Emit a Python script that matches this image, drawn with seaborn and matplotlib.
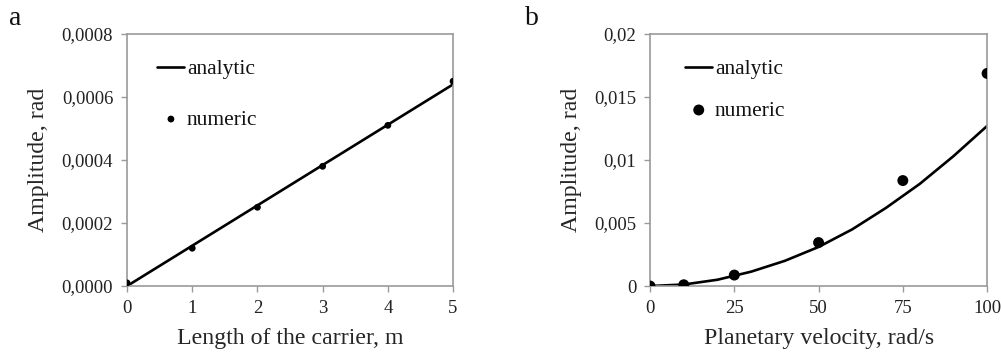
import numpy as np
import pandas as pd
import seaborn as sns
import matplotlib.pyplot as plt
from matplotlib.ticker import FuncFormatter

# Panel a: amplitude vs length of the carrier
len_analytic_x = [0, 1, 2, 3, 4, 5]
len_analytic_y = [0.0, 0.000128, 0.000256, 0.000384, 0.000512, 0.00064]
len_numeric_x = [0, 1, 2, 3, 4, 5]
len_numeric_y = [0.00001, 0.00012, 0.00025, 0.00038, 0.00051, 0.00065]

# Panel b: amplitude vs planetary velocity
vel_analytic_x = [0, 10, 20, 30, 40, 50, 60, 70, 80, 90, 100]
vel_analytic_y = [0.0, 0.00012, 0.0005, 0.00114, 0.002, 0.0031, 0.0045, 0.0062, 0.0081, 0.0103, 0.0127]
vel_numeric_x = [0, 10, 25, 50, 75, 100]
vel_numeric_y = [0.0, 0.0001, 0.00087, 0.00345, 0.00837, 0.01687]

sns.set_theme(style="white")
plt.rcParams['font.family'] = ['Liberation Serif', 'DejaVu Serif']
plt.rcParams['text.color'] = '#111111'

fig = plt.figure(figsize=(10.01, 3.54), dpi=100)
ax_a = fig.add_axes([0.1269, 0.192, 0.3257, 0.712])
ax_b = fig.add_axes([0.6494, 0.192, 0.3367, 0.712])

# --- panel a
sns.lineplot(x=len_analytic_x, y=len_analytic_y, ax=ax_a, color='black', lw=1.9, label='analytic')
sns.scatterplot(x=len_numeric_x, y=len_numeric_y, ax=ax_a, color='black', s=24, edgecolor='none',
                label='numeric', zorder=3)
ax_a.set_xlim(0, 5)
ax_a.set_ylim(0, 0.0008)
ax_a.set_xticks(range(0, 6))
ax_a.set_yticks(np.arange(0, 0.00081, 0.0002))
ax_a.yaxis.set_major_formatter(FuncFormatter(lambda v, p: f"{v:.4f}".replace('.', ',')))
ax_a.set_xlabel('Length of the carrier, m', fontsize=17.2, labelpad=8)
ax_a.set_ylabel('Amplitude, rad', fontsize=17.2, labelpad=9)

# --- panel b
sns.lineplot(x=vel_analytic_x, y=vel_analytic_y, ax=ax_b, color='black', lw=1.9, label='analytic')
sns.scatterplot(x=vel_numeric_x, y=vel_numeric_y, ax=ax_b, color='black', s=62, edgecolor='none',
                label='numeric', zorder=3)
ax_b.set_xlim(0, 100)
ax_b.set_ylim(0, 0.02)
ax_b.set_xticks([0, 25, 50, 75, 100])
ax_b.set_yticks([0, 0.005, 0.01, 0.015, 0.02])
ax_b.yaxis.set_major_formatter(FuncFormatter(lambda v, p: f"{v:g}".replace('.', ',')))
ax_b.set_xlabel('Planetary velocity, rad/s', fontsize=17.2, labelpad=8)
ax_b.set_ylabel('Amplitude, rad', fontsize=17.2, labelpad=9)

for ax, spacing, left in [(ax_a, 1.42, 0.067), (ax_b, 1.0, 0.079)]:
    for s in ax.spines.values():
        s.set_color('#9a9a9a')
        s.set_linewidth(1.2)
    ax.tick_params(axis='both', which='major', direction='out', length=4, width=1,
                   color='#9a9a9a', labelsize=13.5, labelcolor='#222222', pad=6,
                   bottom=True, left=True)
    ax.legend(loc='upper left', bbox_to_anchor=(left, 0.935), frameon=False, fontsize=15.5,
              handlelength=1.25, handletextpad=0.12, labelspacing=spacing, borderaxespad=0)

fig.text(0.009, 0.93, 'a', fontsize=20)
fig.text(0.524, 0.93, 'b', fontsize=20)

plt.savefig('out.png', dpi=100)
